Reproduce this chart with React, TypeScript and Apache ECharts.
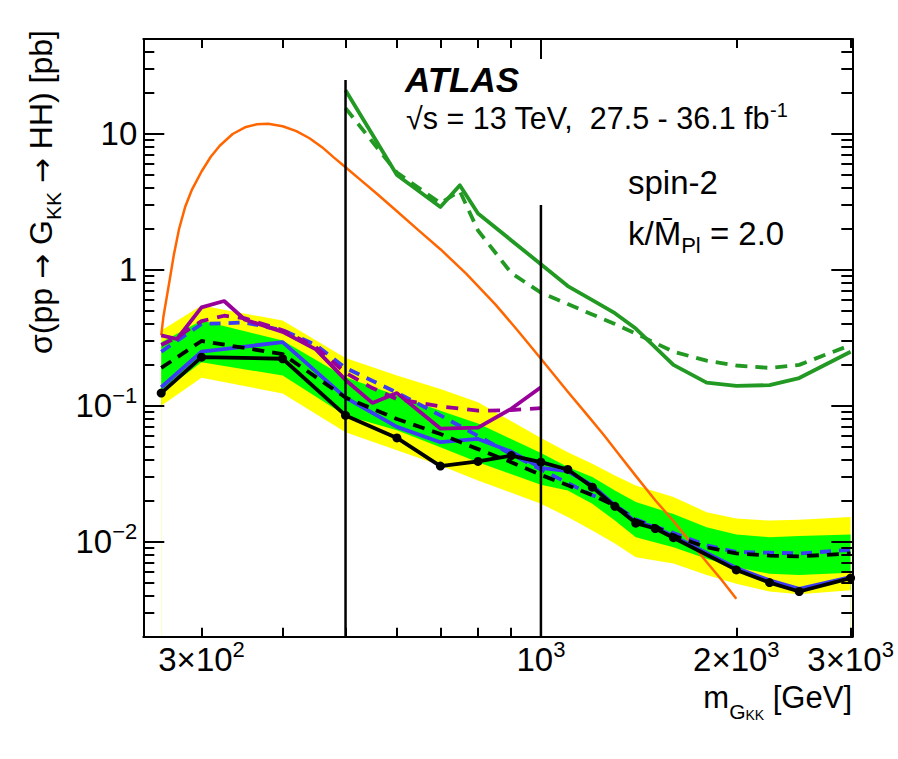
import React, { useEffect, useRef } from "react";
import * as echarts from "echarts";

// ---------- axis ranges ----------
const X_MIN = 244;
const X_MAX = 3018;
const Y_MIN = 0.002;
const Y_MAX = 50;

// ---------- ticks ----------
const xMajorTicks = [1000];
const xMinorTicks = [300, 400, 500, 600, 700, 800, 900, 2000, 3000];
const xTickLabels = [300, 1000, 2000, 3000];
const yMajorTicks = [0.01, 0.1, 1, 10];
const yMinorTicks = [
  0.002, 0.003, 0.004, 0.005, 0.006, 0.007, 0.008, 0.009,
  0.02, 0.03, 0.04, 0.05, 0.06, 0.07, 0.08, 0.09,
  0.2, 0.3, 0.4, 0.5, 0.6, 0.7, 0.8, 0.9,
  2, 3, 4, 5, 6, 7, 8, 9,
  20, 30, 40, 50,
];
const yTickLabels = [0.01, 0.1, 1, 10];

// ---------- expected bands (combined) ----------
const massBand = [260, 300, 400, 500, 600, 700, 800, 1000, 1100, 1200, 1300, 1400, 1600, 1800, 2000, 2250, 2500, 3000];
const band2Up = [0.358, 0.546, 0.424, 0.225, 0.167, 0.133, 0.106, 0.058, 0.0456, 0.0374, 0.0307, 0.0259, 0.0213, 0.0165, 0.0148, 0.0143, 0.0145, 0.0152];
const band1Up = [0.294, 0.424, 0.302, 0.162, 0.119, 0.092, 0.074, 0.045, 0.0354, 0.0299, 0.0238, 0.0196, 0.016, 0.0128, 0.0113, 0.0108, 0.011, 0.0113];
const band1Dn = [0.125, 0.209, 0.167, 0.085, 0.066, 0.0496, 0.0385, 0.0262, 0.0238, 0.019, 0.0143, 0.0108, 0.0091, 0.0075, 0.0065, 0.0058, 0.0057, 0.0059];
const band2Dn = [0.1, 0.161, 0.123, 0.064, 0.047, 0.0364, 0.0282, 0.019, 0.0152, 0.0121, 0.0097, 0.0077, 0.0069, 0.0057, 0.0049, 0.0043, 0.0041, 0.0044];

// ---------- combined ----------
const massCombObs = [260, 300, 400, 500, 600, 700, 800, 900, 1000, 1100, 1200, 1300, 1400, 1500, 1600, 2000, 2250, 2500, 3000];
const combObs = [0.124, 0.228, 0.222, 0.085, 0.058, 0.036, 0.039, 0.043, 0.0385, 0.034, 0.0252, 0.0182, 0.0137, 0.0125, 0.0107, 0.0062, 0.005, 0.0043, 0.0054];
const massCombExp = [260, 300, 400, 500, 600, 700, 800, 900, 1000, 1100, 1200, 1300, 1400, 1500, 1600, 1800, 2000, 2250, 2500, 3000];
const combExp = [0.19, 0.3, 0.24, 0.115, 0.08, 0.062, 0.048, 0.0385, 0.031, 0.026, 0.022, 0.0184, 0.0143, 0.0129, 0.0111, 0.0091, 0.0082, 0.0079, 0.0078, 0.0082];

// ---------- blue channel ----------
const massBlueObs = [260, 300, 400, 500, 600, 700, 800, 900, 1000, 1100, 1200, 1300, 1400, 1500, 1600, 2000, 2250, 2500, 3000];
const blueObs = [0.137, 0.25, 0.294, 0.115, 0.07, 0.054, 0.057, 0.046, 0.035, 0.033, 0.026, 0.0185, 0.014, 0.0128, 0.011, 0.0064, 0.0052, 0.0045, 0.0055];
const massBlueExp = [260, 300, 350, 400, 450, 500, 600, 700, 800, 900, 1000, 1100, 1200, 1300, 1400, 1600, 1800, 2000, 2250, 2500, 3000];
const blueExp = [0.25, 0.4, 0.41, 0.36, 0.28, 0.19, 0.125, 0.085, 0.06, 0.044, 0.034, 0.027, 0.022, 0.0186, 0.0146, 0.0116, 0.0094, 0.0084, 0.0083, 0.0082, 0.0087];

// ---------- purple channel ----------
const massPurple = [260, 275, 300, 325, 350, 400, 450, 500, 550, 600, 700, 800, 900, 1000];
const purpleObs = [0.33, 0.31, 0.53, 0.59, 0.43, 0.35, 0.26, 0.155, 0.105, 0.124, 0.068, 0.069, 0.095, 0.137];
const purpleExp = [0.28, 0.32, 0.42, 0.46, 0.44, 0.36, 0.27, 0.175, 0.135, 0.112, 0.099, 0.092, 0.093, 0.096];

// ---------- dark green channel ----------
const massGreenObs = [500, 600, 700, 750, 800, 1000, 1100, 1200, 1300, 1400, 1600, 1800, 2000, 2250, 2500, 3000];
const greenObs = [21, 5.0, 2.9, 4.2, 2.6, 1.1, 0.76, 0.6, 0.48, 0.37, 0.2, 0.148, 0.14, 0.142, 0.16, 0.25];
const massGreenExp = [500, 600, 700, 750, 800, 900, 1000, 1100, 1200, 1300, 1400, 1600, 1800, 2000, 2250, 2500, 3000];
const greenExp = [15.5, 5.2, 3.1, 3.8, 1.95, 0.95, 0.68, 0.56, 0.47, 0.4, 0.34, 0.25, 0.215, 0.198, 0.19, 0.2, 0.28];

// ---------- theory (bulk RS, k/MPl = 2) ----------
const massTheory = [260, 262, 265, 268, 272, 277, 283, 290, 300, 310, 320, 335, 350, 365, 380, 400, 420, 440, 460, 480, 500, 530, 560, 600, 650, 700, 767, 850, 920, 1000, 1100, 1180, 1250, 1320, 1400, 1500, 1600, 1700, 1800, 1900, 2000];
const xsTheory = [0.33, 0.45, 0.62, 0.85, 1.3, 2.0, 2.9, 3.9, 5.3, 6.8, 8.2, 10.0, 11.2, 11.8, 11.9, 11.4, 10.5, 9.3, 8.0, 6.7, 5.7, 4.5, 3.6, 2.7, 1.93, 1.42, 0.94, 0.56, 0.36, 0.222, 0.127, 0.085, 0.061, 0.0436, 0.0305, 0.0202, 0.0142, 0.0099, 0.0071, 0.0052, 0.0038];

// ---------- vertical separators ----------
const vlineMass = [500, 1000];
const vlineTop = [25, 3];

const FONT = '"Liberation Sans", Arial, Helvetica, sans-serif';
const ARROW_FONT = '"DejaVu Sans", "Liberation Sans", sans-serif';
const lg = Math.log10;

const pts = (xs: number[], ys: number[]) => xs.map((x, i) => [x, ys[i]]);

function xLabelFmt(v: number): string {
  const m = Math.round(Math.pow(10, v));
  const e = Math.floor(Math.log10(m) + 1e-9);
  const mant = Math.round(m / Math.pow(10, e));
  return mant === 1 ? `{b|10}{s|${e}}` : `{b|${mant}×10}{s|${e}}`;
}
function yLabelFmt(v: number): string {
  const e = Math.round(v);
  if (e >= 0) return `{b|${Math.round(Math.pow(10, e))}}`;
  return `{b|10}{s|\u2212${-e}}`;
}

const labelRich = {
  b: { fontSize: 33, lineHeight: 42, color: "#000", fontFamily: FONT },
  s: { fontSize: 22, lineHeight: 22, verticalAlign: "top", color: "#000", fontFamily: FONT },
};

function valueAxis(position: string, min: number, max: number, ticks: number[], len: number, withLine: boolean, labels?: { values: number[]; fmt: (v: number) => string; margin: number }) {
  return {
    type: "value",
    position,
    min: lg(min),
    max: lg(max),
    z: 10,
    axisLine: { show: withLine, onZero: false, lineStyle: { color: "#000", width: 2 } },
    axisTick: { show: true, inside: true, length: len, customValues: ticks.map(lg), lineStyle: { color: "#000", width: 2 } },
    axisLabel: labels
      ? { show: true, customValues: labels.values.map(lg), formatter: labels.fmt, margin: labels.margin, rich: labelRich, color: "#000" }
      : { show: false },
    splitLine: { show: false },
  };
}

function buildOption(): any {
  const band = (ys: number[], color: string) => ({
    type: "line",
    data: pts(massBand, ys),
    symbol: "none",
    silent: true,
    z: 1,
    lineStyle: { width: 0 },
    areaStyle: { color, opacity: 1, origin: "start" },
  });
  const line = (xs: number[], ys: number[], color: string, width: number, dash: number[] | null, z: number) => ({
    type: "line",
    data: pts(xs, ys),
    symbol: "none",
    silent: true,
    z,
    lineStyle: { color, width, type: dash ? dash : "solid", cap: "butt", join: "round" },
  });

  const vlines = vlineMass.map((m, i) => ({
    type: "line",
    data: [[m, Y_MIN], [m, vlineTop[i]]],
    symbol: "none",
    silent: true,
    z: 9,
    lineStyle: { color: "#000", width: 2.5 },
  }));

  return {
    animation: false,
    backgroundColor: "#fff",
    textStyle: { fontFamily: FONT },
    grid: { left: 143.3, right: 45.7, top: 39, bottom: 122.3, containLabel: false, outerBoundsMode: "none" },
    xAxis: [
      { type: "log", logBase: 10, min: X_MIN, max: X_MAX, position: "bottom", axisLine: { show: false, onZero: false }, axisTick: { show: false }, axisLabel: { show: false }, splitLine: { show: false } },
      valueAxis("bottom", X_MIN, X_MAX, xMajorTicks, 20, true, { values: xTickLabels, fmt: xLabelFmt, margin: 2 }),
      valueAxis("bottom", X_MIN, X_MAX, xMinorTicks, 9, false),
      valueAxis("top", X_MIN, X_MAX, xMajorTicks, 20, true),
      valueAxis("top", X_MIN, X_MAX, xMinorTicks, 9, false),
    ],
    yAxis: [
      { type: "log", logBase: 10, min: Y_MIN, max: Y_MAX, position: "left", axisLine: { show: false, onZero: false }, axisTick: { show: false }, axisLabel: { show: false }, splitLine: { show: false } },
      valueAxis("left", Y_MIN, Y_MAX, yMajorTicks, 21, true, { values: yTickLabels, fmt: yLabelFmt, margin: 6 }),
      valueAxis("left", Y_MIN, Y_MAX, yMinorTicks, 11, false),
      valueAxis("right", Y_MIN, Y_MAX, yMajorTicks, 21, true),
      valueAxis("right", Y_MIN, Y_MAX, yMinorTicks, 11, false),
    ],
    series: [
      band(band2Up, "#ffff00"),
      band(band1Up, "#00ff00"),
      band(band1Dn, "#ffff00"),
      band(band2Dn, "#ffffff"),
      line(massTheory, xsTheory, "#ff6600", 2.5, null, 3),
      line(massGreenExp, greenExp, "#229922", 3.8, [12, 8], 4),
      line(massGreenObs, greenObs, "#229922", 3.8, null, 4),
      line(massBlueExp, blueExp, "#3c3cf5", 3.8, [11, 8], 5),
      line(massBlueObs, blueObs, "#3c3cf5", 3.8, null, 5),
      line(massPurple, purpleExp, "#990099", 3.8, [12, 9], 6),
      line(massPurple, purpleObs, "#990099", 3.8, null, 6),
      line(massCombExp, combExp, "#000000", 3.8, [12, 8], 7),
      {
        type: "line",
        data: pts(massCombObs, combObs),
        symbol: "circle",
        symbolSize: 9,
        showSymbol: true,
        showAllSymbol: true,
        silent: true,
        z: 8,
        itemStyle: { color: "#000" },
        lineStyle: { color: "#000", width: 3.8 },
      },
      ...vlines,
    ],
    graphic: [
      {
        type: "text",
        x: 405,
        y: 79,
        z: 100,
        style: { text: "ATLAS", fontFamily: FONT, fontSize: 35, fontWeight: "bold", fontStyle: "italic", fill: "#000", align: "left", verticalAlign: "middle" },
      },
      {
        type: "text",
        x: 406,
        y: 118,
        z: 100,
        style: {
          text: "{n|\u221As = 13 TeV,  27.5 - 36.1 fb}{s|-1}",
          align: "left",
          verticalAlign: "middle",
          fill: "#000",
          rich: {
            n: { fontFamily: FONT, fontSize: 30.5, lineHeight: 36, fill: "#000" },
            s: { fontFamily: FONT, fontSize: 20, lineHeight: 18, verticalAlign: "top", fill: "#000" },
          },
        },
      },
      {
        type: "text",
        x: 628,
        y: 182,
        z: 100,
        style: { text: "spin-2", fontFamily: FONT, fontSize: 33, fill: "#000", align: "left", verticalAlign: "middle" },
      },
      {
        type: "text",
        x: 628,
        y: 233,
        z: 100,
        style: {
          text: "{n|k/M\u0304}{s|Pl}{n| = 2.0}",
          align: "left",
          verticalAlign: "middle",
          fill: "#000",
          rich: {
            n: { fontFamily: FONT, fontSize: 33, lineHeight: 46, fill: "#000" },
            s: { fontFamily: FONT, fontSize: 22, lineHeight: 22, verticalAlign: "bottom", fill: "#000" },
          },
        },
      },
      {
        type: "text",
        x: 41,
        y: 30,
        rotation: Math.PI / 2,
        z: 100,
        style: {
          text: "{b|\u03C3(pp }{a|\u2192}{b| G}{s|KK}{b| }{a|\u2192}{b| HH) [pb]}",
          align: "right",
          verticalAlign: "middle",
          fill: "#000",
          rich: {
            b: { fontFamily: FONT, fontSize: 32, lineHeight: 46, fill: "#000" },
            a: { fontFamily: ARROW_FONT, fontSize: 30, lineHeight: 46, fill: "#000" },
            s: { fontFamily: FONT, fontSize: 21, lineHeight: 24, verticalAlign: "bottom", fill: "#000" },
          },
        },
      },
      {
        type: "text",
        x: 852,
        y: 697,
        z: 100,
        style: {
          text: "{m|m}{g|G}{k|KK}{m| [GeV]}",
          align: "right",
          verticalAlign: "middle",
          fill: "#000",
          rich: {
            m: { fontFamily: FONT, fontSize: 31, lineHeight: 50, fill: "#000" },
            g: { fontFamily: FONT, fontSize: 21, lineHeight: 26, verticalAlign: "bottom", fill: "#000" },
            k: { fontFamily: FONT, fontSize: 14, lineHeight: 6, verticalAlign: "bottom", fill: "#000" },
          },
        },
      },
    ],
  };
}

export default function App() {
  const ref = useRef<HTMLDivElement>(null);
  useEffect(() => {
    if (!ref.current) return;
    const chart = echarts.init(ref.current, null, { renderer: "svg" });
    chart.setOption(buildOption());
    return () => chart.dispose();
  }, []);
  return (
    <div
      ref={ref}
      style={{ position: "fixed", left: 0, top: 0, width: 898, height: 759, background: "#fff" }}
    />
  );
}
